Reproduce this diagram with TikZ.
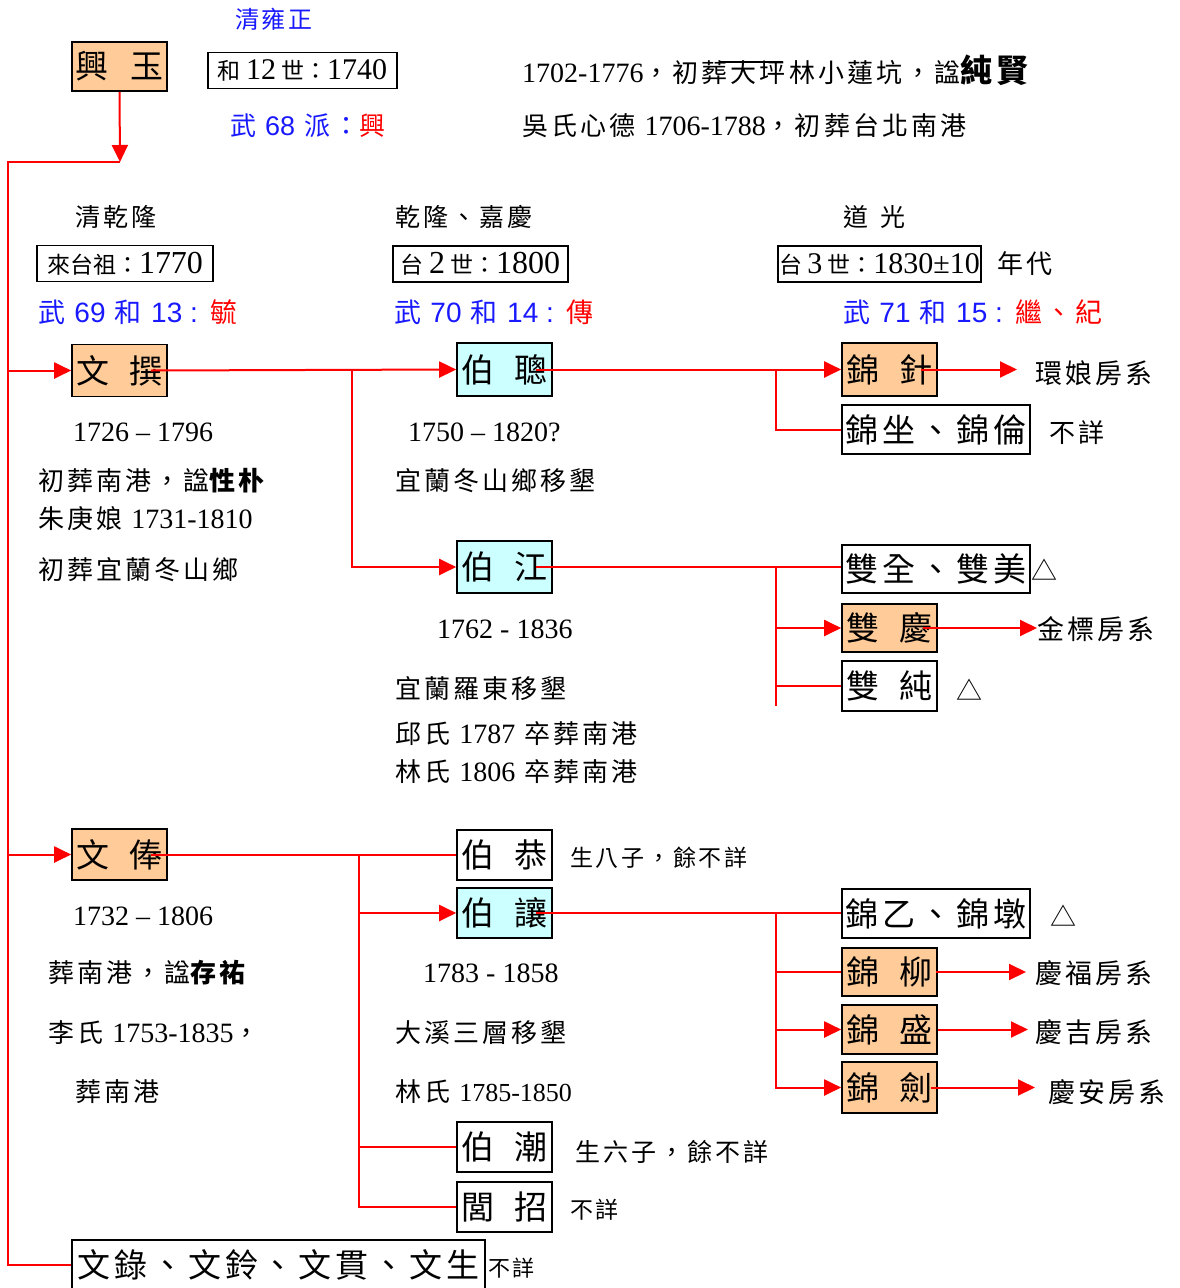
\documentclass[tikz,border=0pt]{standalone}
\usepackage{fontspec}
\setmainfont{Noto Sans CJK TC}[LetterSpace=12]
\newfontfamily\cjkn{Noto Sans CJK TC}
\newfontfamily\lat{Liberation Serif}
\newfontfamily\las{Liberation Sans}
\usetikzlibrary{arrows.meta}
\definecolor{rd}{RGB}{255,0,0}
\definecolor{tb}{RGB}{25,25,255}
\definecolor{pch}{RGB}{255,204,153}
\definecolor{cyn}{RGB}{204,255,255}
\newcommand\Nm[2]{{\lat\fontsize{#1}{#1}\selectfont #2}}
\newcommand\Sm[2]{{\las\fontsize{#1}{#1}\selectfont #2}}
\tikzset{
  rline/.style={draw=rd, line width=2pt},
  rarr/.style={rline, -{Triangle[length=17pt,width=16pt]}},
  namebox/.style={draw=black, line width=1.6pt, inner sep=0pt, font=\cjkn\fontsize{33}{33}\selectfont, minimum width=95pt, minimum height=51pt},
  peach/.style={namebox, fill=pch},
  cyanb/.style={namebox, fill=cyn},
  whiteb/.style={namebox, fill=white},
  widebox/.style={namebox, fill=white, font=\fontsize{33}{33}\selectfont},
  gbox/.style={draw=black, line width=1.4pt, inner sep=0pt, minimum height=36pt, font=\cjkn\fontsize{23}{23}\selectfont},
  txt/.style={anchor=west, inner sep=0pt, font=\fontsize{26}{26}\selectfont},
  rtxt/.style={txt, font=\fontsize{27}{27}\selectfont},
  btxt/.style={txt, text=tb, font=\fontsize{27}{27}\selectfont},
  hd/.style={txt, font=\fontsize{25}{25}\selectfont},
  small/.style={txt, font=\fontsize{23}{23}\selectfont},
}
\begin{document}
\begin{tikzpicture}[x=1pt,y=-1pt]
\useasboundingbox (0,0) rectangle (1180,1288);
% ---------- top ----------
\node[btxt, anchor=center, font=\fontsize{24}{24}\selectfont] (yz) at (274,19) {清雍正};
\node[peach, minimum height=49pt] (xy) at (119.5,66.5) {興\hspace{22pt}玉};
\node[gbox, minimum width=189pt] (g12) at (302.5,70.5) {和 \Nm{30}{12} 世：\Nm{30}{1740}};
\node[btxt, font=\fontsize{26}{26}\selectfont] (w68) at (230,126) {武 \Sm{27}{68} 派：\textcolor{rd}{興}};
\node[txt] (l1) at (522,70) {\Nm{28}{1702-1776}，初葬大坪林小蓮坑，諡{\bfseries\fontsize{32}{32}\selectfont 純賢}};
\coordinate (s1) at (720,62);
\coordinate (s2) at (783,62);
\draw[line width=1.2pt] (s1) -- (s2);
\node[txt] (l2) at (522,126) {吳氏心德 \Nm{28}{1706-1788}，初葬台北南港};
% ---------- generation headers ----------
\node[hd] (h1) at (75,217) {清乾隆};
\node[hd] (h2) at (395,217) {乾隆、嘉慶};
\node[hd] (h3) at (843,217) {道\hspace{12pt}光};
\node[gbox, minimum width=176pt] (g1) at (125,263.5) {來台祖：\Nm{32}{1770}};
\node[gbox, minimum width=175pt] (g2) at (480.5,264) {台 \Nm{32}{2} 世：\Nm{32}{1800}};
\node[gbox, minimum width=203pt] (g3) at (879.5,264) {台 \Nm{30}{3} 世：\Nm{30}{1830±10}};
\node[txt] (nd) at (997,264) {年代};
\node[btxt] (w69) at (38,312) {武 \Sm{28}{69} 和 \Sm{28}{13 :} \textcolor{rd}{毓}};
\node[btxt] (w70) at (394,312) {武 \Sm{28}{70} 和 \Sm{28}{14 :} \textcolor{rd}{傳}};
\node[btxt] (w71) at (843,312) {武 \Sm{28}{71} 和 \Sm{28}{15 :} \textcolor{rd}{繼、紀}};
% ---------- name boxes ----------
\node[peach, minimum height=52pt] (wz) at (119.5,370.5) {文\hspace{20pt}撰};
\node[cyanb, minimum height=53pt] (bc) at (504.5,369.5) {伯\hspace{20pt}聰};
\node[cyanb, minimum height=52pt] (bj) at (504.5,567) {伯\hspace{20pt}江};
\node[peach, minimum height=53pt] (jz) at (889.5,369.5) {錦\hspace{20pt}針};
\node[widebox, minimum width=188pt, minimum height=49pt] (jzl) at (936,429.5) {錦坐、錦倫};
\node[widebox, minimum width=188pt, minimum height=48pt] (sq) at (936,569) {雙全、雙美};
\node[peach, minimum height=48pt] (sqg) at (889.5,628) {雙\hspace{20pt}慶};
\node[whiteb, minimum height=50pt] (sc) at (889.5,686) {雙\hspace{20pt}純};
\node[peach, minimum height=51pt] (wf) at (119.5,854.5) {文\hspace{20pt}俸};
\node[whiteb, minimum height=50pt] (bg) at (504.5,855) {伯\hspace{20pt}恭};
\node[cyanb, minimum height=50pt] (br) at (504.5,913) {伯\hspace{20pt}讓};
\node[whiteb, minimum height=50pt] (bch) at (504.5,1147) {伯\hspace{20pt}潮};
\node[whiteb, minimum height=50pt] (lz) at (504.5,1207) {閭\hspace{20pt}招};
\node[widebox, minimum width=188pt, minimum height=49pt] (jy) at (936,913.5) {錦乙、錦墩};
\node[peach, minimum height=48pt] (jl) at (889.5,972) {錦\hspace{20pt}柳};
\node[peach, minimum height=49pt] (js) at (889.5,1029.5) {錦\hspace{20pt}盛};
\node[peach, minimum height=51pt] (jj) at (889.5,1087.5) {錦\hspace{20pt}劍};
\node[widebox, minimum width=413pt, minimum height=50pt] (wl) at (278.5,1265) {文錄、文鈴、文貫、文生};
% ---------- descriptive texts ----------
\node[txt] (d1) at (73,432) {\Nm{28}{1726 – 1796}};
\node[txt] (d2) at (38,481) {初葬南港，諡{\bfseries 性朴}};
\node[txt] (d3) at (38,519) {朱庚娘 \Nm{28}{1731-1810}};
\node[txt] (d4) at (38,570) {初葬宜蘭冬山鄉};
\node[txt] (d5) at (408,432) {\Nm{28}{1750 – 1820?}};
\node[txt] (d6) at (395,481) {宜蘭冬山鄉移墾};
\node[rtxt] (hn) at (1035,373) {環娘房系};
\node[txt] (bx1) at (1049,433) {不詳};
\node[txt] (tr1) at (1031,570) {△};
\node[txt] (tr2) at (956,690) {△};
\node[rtxt] (jb) at (1037,629) {金標房系};
\node[txt] (d7) at (437,629) {\Nm{28}{1762 - 1836}};
\node[txt] (d8) at (395,689) {宜蘭羅東移墾};
\node[txt] (d9) at (395,734) {邱氏 \Nm{28}{1787} 卒葬南港};
\node[txt] (d10) at (395,772) {林氏 \Nm{28}{1806} 卒葬南港};
\node[txt] (e1) at (73,916) {\Nm{28}{1732 – 1806}};
\node[txt] (e2) at (48,973) {葬南港，諡{\bfseries 存祐}};
\node[txt] (e3) at (48,1033) {李氏 \Nm{28}{1753-1835}，};
\node[txt] (e4) at (75,1092) {葬南港};
\node[small] (e5) at (570,858) {生八子，餘不詳};
\node[txt] (e6) at (423,973) {\Nm{28}{1783 - 1858}};
\node[txt] (e7) at (395,1033) {大溪三層移墾};
\node[txt] (e8) at (395,1092) {林氏 \Nm{26}{1785-1850}};
\node[txt] (tr3) at (1050,916) {△};
\node[rtxt] (qf) at (1035,973) {慶福房系};
\node[rtxt] (qj) at (1035,1032) {慶吉房系};
\node[rtxt] (qa) at (1048,1092) {慶安房系};
\node[txt, font=\fontsize{25}{25}\selectfont] (e9) at (575,1152) {生六子，餘不詳};
\node[small] (e10) at (570,1210) {不詳};
\node[small, font=\fontsize{22}{22}\selectfont] (e11) at (488,1268) {不詳};
% ---------- connectors ----------
\coordinate (hr) at (120,162);
\coordinate (vtop) at (8,162);
\draw[rarr] (xy.south) -- (hr);
\draw[rline] (hr) -- (vtop) |- (wl.west);
\draw[rarr] (vtop |- wz.west) -- (wz.west);
\draw[rarr] (vtop |- wf.west) -- (wf.west);
% 文撰 branch
\draw[rarr] ([xshift=-17pt]wz.east) -- (bc.west);
\coordinate (j1) at (352,370.5);
\draw[rarr] (j1) |- (bj.west);
% 伯聰 branch
\draw[rarr] ([xshift=-17pt]bc.east) -- (jz.west);
\coordinate (j2) at (776,369.5);
\draw[rline] (j2) |- (jzl.west);
\draw[rarr, shorten >=18pt] ([xshift=-17pt]jz.east) -- (jz.east -| hn.west);
% 伯江 branch
\draw[rline] ([xshift=-17pt]bj.east) -- (bj.east -| sq.west);
\coordinate (j3) at (776,567);
\coordinate (j3b) at (776,706);
\draw[rline] (j3) -- (j3b);
\draw[rarr] (j3) |- (sqg.west);
\draw[rline] (j3) |- (sc.west);
\draw[rarr] ([xshift=-15pt]sqg.east) -- (sqg.east -| jb.west);
% 文俸 branch
\draw[rline] ([xshift=-17pt]wf.east) -- (wf.east -| bg.west);
\coordinate (j4) at (359,854.5);
\draw[rarr] (j4) |- (br.west);
\draw[rline] (j4) |- (bch.west);
\draw[rline] (j4) |- (lz.west);
% 伯讓 branch
\draw[rline] ([xshift=-17pt]br.east) -- (br.east -| jy.west);
\coordinate (j5) at (776,913);
\draw[rline] (j5) |- (jl.west);
\draw[rarr] (j5) |- (js.west);
\draw[rarr] (j5) |- (jj.west);
\draw[rarr, shorten >=9pt] ([xshift=-2pt]jl.east) -- (jl.east -| qf.west);
\draw[rarr, shorten >=7pt] (js.east) -- (js.east -| qj.west);
\draw[rarr, shorten >=13pt] ([xshift=-7pt]jj.east) -- (jj.east -| qa.west);
\end{tikzpicture}
\end{document}
